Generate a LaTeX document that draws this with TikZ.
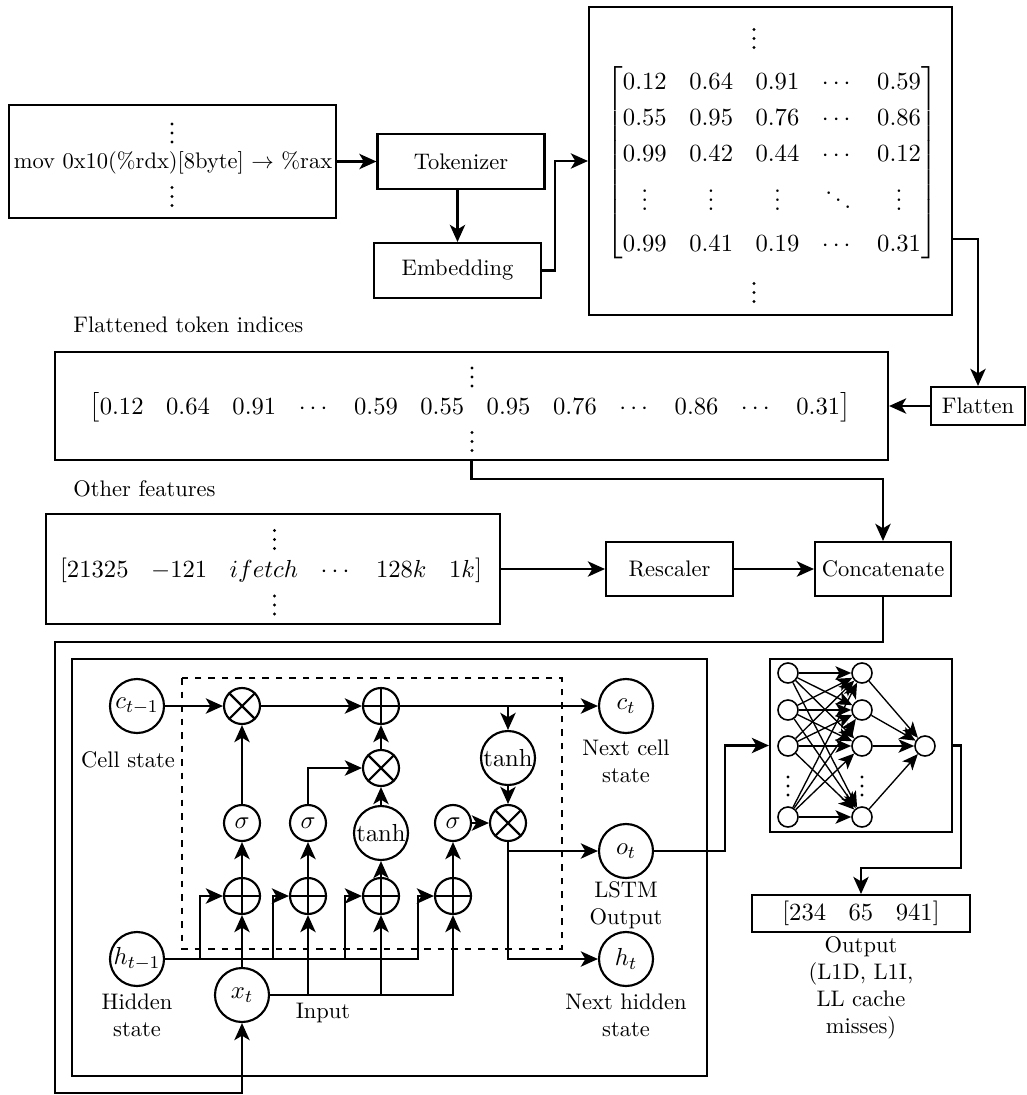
\documentclass[tikz,border=0pt]{standalone}
\usepackage{amsmath}
\setcounter{MaxMatrixCols}{20}
\usetikzlibrary{arrows.meta}
\newcommand{\mf}{\fontsize{10.95}{16}\selectfont}
\newcommand{\vdt}[2]{\fill (#1,#2-9) circle (0.75pt) (#1,#2) circle (0.75pt) (#1,#2+9) circle (0.75pt);}
\begin{document}
\begin{tikzpicture}[x=0.4444pt,y=-0.4444pt,font=\fontsize{10}{12}\selectfont,
  bx/.style={draw,line width=0.95pt,inner sep=0pt},
  ln/.style={line width=0.95pt},
  arr/.style={line width=0.95pt,-{Stealth[length=7.6pt,width=6.8pt,inset=2pt]}},
  nnarr/.style={line width=0.6pt,-{Stealth[length=7pt,width=6pt,inset=1.8pt]}},
  cbig/.style={draw,circle,line width=0.95pt,inner sep=0pt,minimum size=24pt,font=\mf},
  csm/.style={draw,circle,line width=0.95pt,inner sep=0pt,minimum size=16pt,font=\mf},
  cnn/.style={draw,circle,line width=0.7pt,inner sep=0pt,minimum size=8.9pt},
  lbl/.style={align=center,inner sep=0pt}]
\useasboundingbox (0,0) rectangle (1027,1095);

% ---------- top row ----------
\node[bx,minimum width=145.3pt,minimum height=50.2pt] (mov) at (172.5,161.5) {};
\node[inner sep=0pt] (movt) at (173,163) {mov 0x10(\%rdx)[8byte] $\rightarrow$ \%rax};
\vdt{172}{133} \vdt{172}{196.5}

\node[bx,minimum width=74.2pt,minimum height=24.4pt] (tok) at (461,161.5) {Tokenizer};
\node[bx,minimum width=74.2pt,minimum height=24.4pt] (emb) at (457.5,270.5) {Embedding};

\node[bx,minimum width=161.3pt,minimum height=136.9pt] (mat) at (770.5,161) {};
\node[font=\mf,inner sep=0pt] (matc) at (772,163) {$\begin{bmatrix}
0.12 & 0.64 & 0.91 & \cdots & 0.59\\
0.55 & 0.95 & 0.76 & \cdots & 0.86\\
0.99 & 0.42 & 0.44 & \cdots & 0.12\\[2pt]
\vdots & \vdots & \vdots & \ddots & \vdots\\[2pt]
0.99 & 0.41 & 0.19 & \cdots & 0.31
\end{bmatrix}$};
\vdt{754}{38.5} \vdt{754}{292.5}

\draw[arr] (mov) -- (tok);
\draw[arr] (tok.south -| emb.north) -- (emb.north);
\draw[arr] (emb.east) -- ++(12.6,0) |- (mat.west);

% ---------- flatten row ----------
\node[bx,minimum width=41.8pt,minimum height=16.9pt] (flat) at (978,406) {Flatten};
\node[anchor=west,inner sep=0pt] (lab1) at (73,325) {Flattened token indices};
\node[bx,minimum width=370.2pt,minimum height=48pt] (fl) at (471.5,406) {};
\node[font=\mf,inner sep=0pt] (flc) at (470,407) {$\big[\begin{matrix}0.12 & 0.64 & 0.91 & \cdots & 0.59 & 0.55 & 0.95 & 0.76 & \cdots & 0.86 & \cdots & 0.31\end{matrix}\big]$};
\vdt{472}{377} \vdt{472}{441.5}

\coordinate (c3) at (952,239);
\draw[arr] (c3) -| (flat.north);
\draw[arr] (flat.west) -- (fl.east |- flat.west);

% ---------- other features row ----------
\node[anchor=west,inner sep=0pt] (lab2) at (73,489) {Other features};
\node[bx,minimum width=201.8pt,minimum height=48.9pt] (of) at (273,569) {};
\node[font=\mf,inner sep=0pt] (ofc) at (271,570) {$[\begin{matrix}21325 & -121 & ifetch & \cdots & 128k & 1k\end{matrix}]$};
\vdt{274.5}{539.5} \vdt{274.5}{605}
\node[bx,minimum width=56.4pt,minimum height=24pt] (resc) at (669.5,569) {Rescaler};
\node[bx,minimum width=60.4pt,minimum height=24pt] (cc) at (883,569) {Concatenate};

\draw[arr] (fl.south) -- ++(0,18) -| (cc.north);
\draw[arr] (of.east) -- (resc.west);
\draw[arr] (resc.east) -- (cc.west);

% ---------- LSTM ----------
\node[bx,minimum width=282.2pt,minimum height=185.3pt] (lstm) at (389.5,867.5) {};
\draw[dashed,line width=0.95pt] (182,678) rectangle (562,949);

\node[cbig] (cp) at (137,706) {$c_{t-1}$};
\node[csm] (m1) at (242,706) {};
\node[csm] (pt) at (381,706) {};
\node[cbig] (ct) at (626,706) {$c_t$};
\node[csm] (m2) at (381,768) {};
\node[cbig] (t2) at (508,758) {$\tanh$};
\node[csm] (s1) at (242,823) {$\sigma$};
\node[csm] (s2) at (308,823) {$\sigma$};
\node[cbig] (t1) at (381,833) {$\tanh$};
\node[csm] (s3) at (453,823) {$\sigma$};
\node[csm] (m3) at (508,823) {};
\node[csm] (p1) at (242,896) {};
\node[csm] (p2) at (308,896) {};
\node[csm] (p3) at (381,896) {};
\node[csm] (p4) at (453,896) {};
\node[cbig] (ot) at (626,851) {$o_t$};
\node[cbig] (hp) at (137,959) {$h_{t-1}$};
\node[cbig] (ht) at (626,959) {$h_t$};
\node[cbig] (xt) at (242,995) {$x_t$};

\foreach \n in {m1,m2,m3} \draw[ln] (\n.north east) -- (\n.south west) (\n.north west) -- (\n.south east);
\foreach \n in {pt,p1,p2,p3,p4} \draw[ln] (\n.north) -- (\n.south) (\n.west) -- (\n.east);

\node[lbl] (lcs) at (128,760) {Cell state};
\node[lbl] (lct) at (626,761.5) {Next cell\\state};
\node[lbl] (lot) at (626,905.5) {LSTM\\Output};
\node[lbl] (lhp) at (137,1015) {Hidden\\state};
\node[lbl] (lht) at (626,1015) {Next hidden\\state};
\node[lbl] (lxt) at (323,1013) {Input};

\draw[arr] (cp) -- (m1);
\draw[arr] (m1) -- (pt);
\draw[arr] (pt) -- (ct);
\draw[arr] (t2 |- pt) -- (t2.north);
\draw[arr] (t2) -- (m3);
\draw[arr] (s3) -- (m3);
\draw[arr] (m2) -- (pt);
\draw[arr] (t1) -- (m2);
\draw[arr] (s2.north) |- (m2.west);
\draw[arr] (s1) -- (m1);
\draw[arr] (p1) -- (s1);
\draw[arr] (p2) -- (s2);
\draw[arr] (p3) -- (t1);
\draw[arr] (p4) -- (s3);
\draw[arr] (m3.south) |- (ot.west);
\draw[arr] (m3.south) |- (ht.west);
\draw[arr] (hp.east) -| (418,896) -- (p4.west);
\draw[arr] (hp -| 200,0) |- (p1.west);
\draw[arr] (hp -| 273,0) |- (p2.west);
\draw[arr] (hp -| 345,0) |- (p3.west);
\draw[arr] (xt) -- (p1);
\draw[arr] (xt.east) -| (p4.south);
\draw[arr] (xt -| p2) -- (p2.south);
\draw[arr] (xt -| p3) -- (p3.south);

\coordinate (fb1) at (55,642);
\coordinate (fb2) at (55,1093);
\draw[arr] (cc.south) |- (fb1) -- (fb2) -| (xt.south);

% ---------- NN ----------
\node[bx,minimum width=80.9pt,minimum height=76.9pt] (nn) at (861,745.5) {};
\node[cnn] (a1) at (788,673) {};
\node[cnn] (a2) at (788,710) {};
\node[cnn] (a3) at (788,746) {};
\node[cnn] (a4) at (788,817) {};
\node[cnn] (b1) at (862,673) {};
\node[cnn] (b2) at (862,710) {};
\node[cnn] (b3) at (862,746) {};
\node[cnn] (b4) at (862,817) {};
\node[cnn] (o1) at (925,746) {};
\vdt{788}{786} \vdt{862}{786}
\foreach \i in {1,2,3,4} \foreach \j in {1,2,3,4} \draw[nnarr] (a\i) -- (b\j);
\foreach \j in {1,2,3,4} \draw[nnarr] (b\j) -- (o1);

\coordinate (c1) at (725,800);
\draw[arr] (ot.east) -| (c1) |- (nn.west);

\node[bx,minimum width=96.9pt,minimum height=16.4pt,font=\mf] (out) at (861,913.5) {$[\begin{matrix}234 & 65 & 941\end{matrix}]$};
\coordinate (c2) at (961,868);
\draw[arr] (nn.east) -| (c2) -| (out.north);
\node[lbl] (lout) at (861,988) {Output\\(L1D, L1I,\\LL cache\\misses)};
\end{tikzpicture}
\end{document}
